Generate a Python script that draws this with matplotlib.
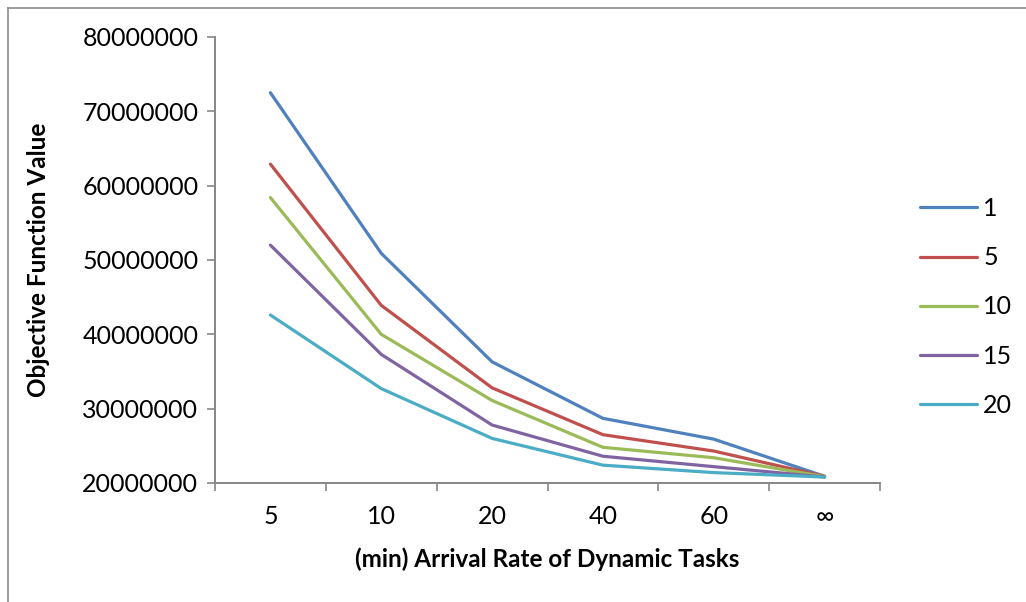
import matplotlib
matplotlib.use("Agg")
import matplotlib.pyplot as plt
from matplotlib.lines import Line2D
from matplotlib.ticker import FixedLocator

plt.rcParams["font.family"] = ["Lato", "DejaVu Sans"]

categories = ["5", "10", "20", "40", "60", "\u221e"]
series_names = ["1", "5", "10", "15", "20"]
s1 = [72500000, 50900000, 36300000, 28700000, 25900000, 20900000]
s5 = [62900000, 43900000, 32800000, 26500000, 24300000, 20900000]
s10 = [58400000, 40000000, 31100000, 24800000, 23400000, 20850000]
s15 = [52000000, 37300000, 27800000, 23600000, 22200000, 20800000]
s20 = [42600000, 32700000, 26000000, 22400000, 21400000, 20800000]
colors = ["#4F81BD", "#C0504D", "#9BBB59", "#8064A2", "#4BACC6"]

fig = plt.figure(figsize=(10.26, 6.02), dpi=100)
ax = fig.add_axes([215 / 1026, 1 - 483 / 602, (880 - 215) / 1026, (483 - 37) / 602])

x = list(range(len(categories)))
for name, vals, c in zip(series_names, [s1, s5, s10, s15, s20], colors):
    ax.plot(x, vals, color=c, linewidth=2.3, label=name, solid_capstyle="round")

ax.set_xlim(-0.5, len(categories) - 0.5)
ax.set_ylim(20000000, 80000000)
ax.set_yticks(range(20000000, 80000001, 10000000))
ax.set_yticklabels([str(v) for v in range(20000000, 80000001, 10000000)])
ax.set_xticks(x)
ax.set_xticklabels(categories)
ax.xaxis.set_minor_locator(FixedLocator([i - 0.5 for i in range(len(categories) + 1)]))
ax.tick_params(axis="x", which="major", length=0, pad=16, labelsize=18)
ax.tick_params(axis="x", which="minor", length=6, width=1.2, color="#868686")
ax.tick_params(axis="y", length=6, width=1.2, color="#868686", labelsize=18, pad=6)

for side in ["top", "right"]:
    ax.spines[side].set_visible(False)
for side in ["left", "bottom"]:
    ax.spines[side].set_color("#868686")
    ax.spines[side].set_linewidth(1.4)

ax.set_xlabel("(min) Arrival Rate of Dynamic Tasks", fontsize=17.5, fontweight="bold")
ax.set_ylabel("Objective Function Value", fontsize=17.5, fontweight="bold")
ax.xaxis.set_label_coords(0.5, (483 - 547) / 446, transform=ax.transAxes)
ax.yaxis.set_label_coords((50 - 215) / 665, 0.5, transform=ax.transAxes)

leg = fig.legend(loc="center left", bbox_to_anchor=(897 / 1026, 1 - 307 / 602), frameon=False,
                 fontsize=18, handlelength=2.3, handletextpad=0.25, labelspacing=1.05)

# chart border (Excel-style)
fig.add_artist(Line2D([8 / 1026, 1], [1 - 8 / 602, 1 - 8 / 602], color="#8c8c8c", linewidth=1.2))
fig.add_artist(Line2D([8 / 1026, 8 / 1026], [0, 1 - 8 / 602], color="#8c8c8c", linewidth=1.2))

fig.savefig("out.png", dpi=100)
